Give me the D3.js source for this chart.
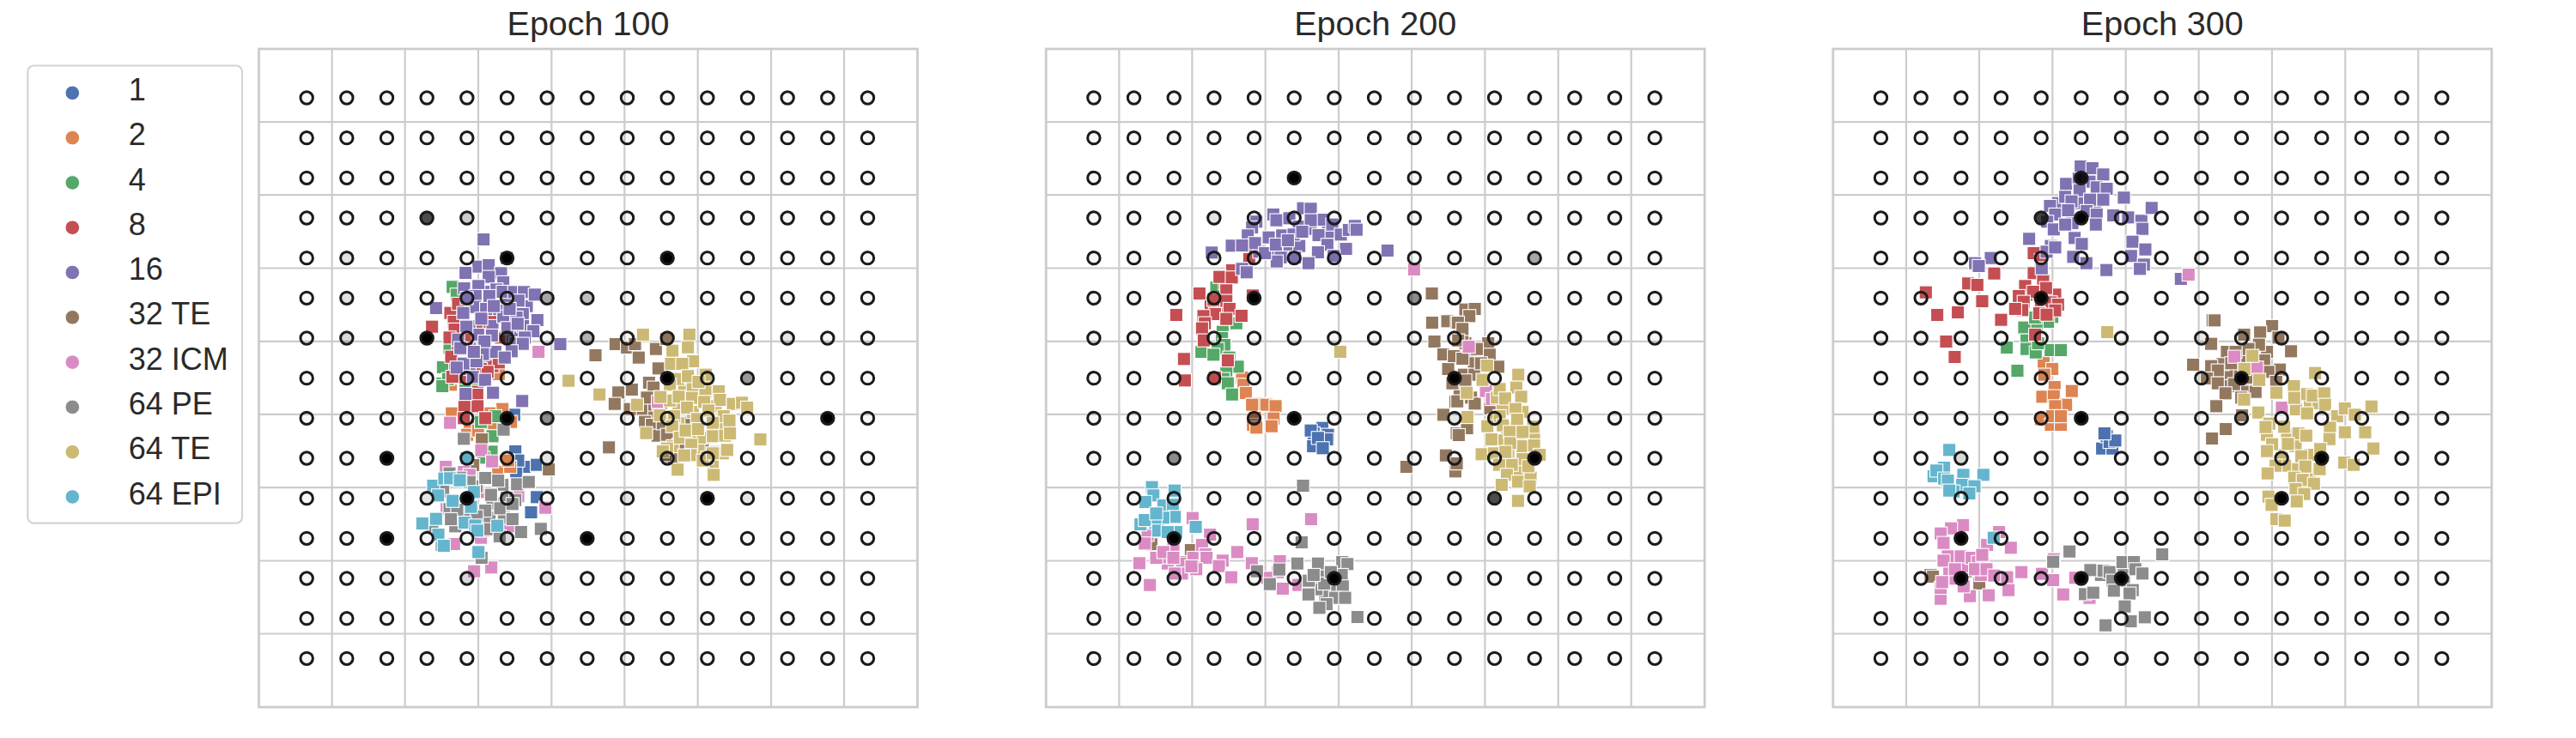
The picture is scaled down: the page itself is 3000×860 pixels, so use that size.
<!DOCTYPE html>
<html>
<head>
<meta charset="utf-8">
<script src="https://cdn.jsdelivr.net/npm/d3@7"></script>
<style>
    html, body { margin: 0; background: #fff; }
    text { font-family: "Liberation Sans", Arial, sans-serif; fill: #2a2a2a; }
</style>
</head>
<body>
<div id="chart"></div>
<script>
// Stages in legend order
const stages = ["1", "2", "4", "8", "16", "32 TE", "32 ICM", "64 PE", "64 TE", "64 EPI"];
const stageColors = ["#4C72B0", "#DD8452", "#55A868", "#C44E52", "#8172B3", "#937860", "#DA8BC3", "#8C8C8C", "#CCB974", "#64B5CD"];

// Map coordinates run 0-2301 across each panel, y downwards
const mapDomain = [0, 2301];
const gridTicks = [254, 509, 765, 1021, 1276, 1532, 1788, 2043];
const latticeX = [167, 307, 447, 587, 727, 867, 1007, 1147, 1287, 1427, 1567, 1707, 1847, 1987, 2127];
const latticeY = [171, 311, 451, 591, 731, 871, 1011, 1151, 1291, 1431, 1571, 1711, 1851, 1991, 2131];

// Epoch 100 cells
const e100_1 = [[896,1407],[892,1279],[928,1461],[971,1454],[899,1479],[971,1567],[951,1620],[906,1439]];
const e100_2 = [[838,1137],[671,1174],[674,1274],[851,1259],[806,1274],[736,1314],[728,1349],[766,1334],[881,1304],[836,1479],[878,1461],[871,1439],[811,1309]];
const e100_4 = [[677,832],[691,859],[666,1045],[643,1113],[641,1170],[661,1154],[726,1174],[801,1089],[756,1179],[741,1019],[641,1179],[721,1179],[826,1284],[776,1304],[816,1354],[813,1408],[785,1429]];
const e100_8 = [[696,1039],[686,1109],[816,1109],[706,1149],[776,1119],[605,971],[669,923],[681,954],[684,981],[672,1076],[696,891],[770,985],[726,1004],[806,967],[821,934],[838,1096],[799,1129],[676,1146],[764,1199],[666,1009],[791,1039],[846,1009],[736,1049],[763,1209],[764,1249],[718,1251],[791,1291],[716,1291]];
const e100_16 = [[836,909],[936,899],[886,919],[816,969],[886,1009],[736,969],[766,999],[826,1059],[896,1029],[726,1049],[736,1119],[806,849],[866,869],[785,666],[866,731],[767,761],[722,783],[803,756],[846,784],[803,797],[854,816],[717,837],[767,829],[830,841],[852,849],[892,850],[926,850],[964,859],[757,864],[805,864],[907,880],[619,906],[756,902],[794,909],[714,923],[777,943],[854,935],[922,927],[900,939],[973,948],[725,971],[868,976],[923,969],[959,987],[814,1002],[696,1016],[788,1023],[929,1009],[922,1031],[1053,1032],[704,1046],[883,1057],[783,1067],[859,1079],[715,1100],[760,1092],[691,1114],[748,1147],[790,1157],[818,1202],[722,1206],[904,961],[876,909],[821,899],[726,871],[751,1059],[920,1231]];
const e100_32te = [[1366,1259],[1396,1269],[1366,1289],[1406,1239],[1376,1199],[779,1365],[749,1455],[1013,1470],[1223,1393],[791,1659],[1176,1071],[1246,1032],[1286,1044],[1314,1032],[1387,1049],[1327,1079],[1396,1117],[1424,1014],[1256,1201],[1243,1241],[1303,1191],[1363,1167],[1379,1184],[1336,1259],[1349,1304],[1373,1314],[1393,1352],[1451,1434],[1296,1259],[1356,1219],[1411,1309],[1426,1349],[1486,1306],[1551,1397],[1421,1419],[1466,1384]];
const e100_32icm = [[668,1307],[653,1461],[777,1403],[815,1442],[1001,1604],[716,1479],[906,1564],[682,1731],[776,1709],[752,1826],[812,1813],[656,1609],[766,1549],[876,1669],[786,1684],[736,1489],[977,1059],[1394,1234]];
const e100_64pe = [[746,1619],[816,1589],[856,1639],[716,1639],[806,1639],[761,1529],[796,1679],[726,1579],[666,1609],[855,1331],[716,1363],[791,1500],[902,1522],[943,1514],[851,1524],[644,1548],[811,1559],[866,1569],[896,1577],[693,1611],[791,1614],[843,1606],[886,1591],[886,1644],[985,1678],[916,1689],[686,1669],[606,1669],[639,1734],[778,1779],[841,1704],[736,1514],[666,1484],[704,1499],[836,1509],[671,1644],[761,1634]];
const e100_64te = [[1486,1194],[1526,1189],[1566,1179],[1466,1249],[1516,1269],[1596,1249],[1466,1309],[1546,1359],[1506,1359],[1606,1329],[1446,1389],[1536,1404],[1596,1409],[1436,1229],[1516,1179],[1342,999],[1504,999],[1499,1043],[1445,1055],[1440,1101],[1517,1092],[1479,1101],[1561,1139],[1465,1154],[1499,1144],[1436,1174],[1190,1208],[1321,1244],[1403,1217],[1467,1216],[1513,1220],[1560,1199],[1607,1197],[1611,1227],[1536,1164],[1656,1241],[1688,1237],[1706,1254],[1401,1281],[1451,1284],[1496,1254],[1556,1234],[1571,1264],[1624,1284],[1644,1299],[1531,1294],[1586,1307],[1353,1343],[1444,1319],[1471,1359],[1491,1334],[1534,1329],[1586,1354],[1629,1352],[1646,1344],[1752,1365],[1511,1384],[1426,1397],[1411,1407],[1509,1420],[1486,1421],[1586,1454],[1566,1429],[1621,1414],[1636,1402],[1463,1471],[1589,1489],[1551,1439],[1586,1414],[1082,1160]];
const e100_64epi = [[726,1431],[609,1527],[648,1502],[668,1501],[702,1508],[626,1561],[751,1549],[677,1580],[741,1601],[619,1643],[571,1659],[719,1656],[756,1666],[833,1667],[763,1684],[627,1698],[646,1737],[767,1759]];

// Epoch 200 cells
const e200_1 = [[965,1325],[935,1344],[985,1349],[925,1334],[933,1389],[982,1365],[950,1360],[967,1396]];
const e200_2 = [[685,1149],[690,1174],[698,1203],[725,1244],[746,1241],[770,1244],[802,1249],[730,1289],[795,1292],[723,1314],[735,1324],[788,1319],[720,1244]];
const e200_4 = [[617,989],[615,1011],[623,1035],[543,1059],[600,1049],[585,1069],[640,1079],[670,1111],[630,1134],[620,1154],[635,1169],[650,1208],[665,959],[595,834]];
const e200_8 = [[605,909],[575,899],[625,819],[710,734],[650,774],[606,797],[649,799],[536,855],[630,844],[722,862],[585,877],[630,881],[641,909],[455,930],[683,933],[590,927],[630,944],[550,934],[555,959],[545,977],[551,1019],[635,1089],[482,1084],[485,1159],[590,1149],[715,689]];
const e200_16 = [[845,699],[805,699],[925,629],[985,639],[745,709],[885,689],[898,557],[925,559],[794,579],[805,599],[850,592],[883,621],[967,597],[925,599],[1000,614],[735,604],[720,624],[705,652],[730,679],[778,659],[825,652],[865,649],[895,639],[952,651],[1030,649],[1058,633],[1079,619],[1085,632],[983,685],[1048,699],[1193,705],[950,711],[917,749],[870,729],[820,729],[806,743],[765,714],[649,688],[685,687],[579,712],[1005,724],[685,769],[701,781],[803,684],[845,669]];
const e200_32te = [[1465,1029],[1485,1079],[1455,1009],[1485,1219],[1445,1199],[1495,1099],[368,1732],[506,1752],[485,1794],[1259,1461],[1397,1421],[1430,1477],[1435,1449],[1348,855],[1349,957],[1402,952],[1435,957],[1357,1023],[1388,1068],[1435,1079],[1405,1119],[1430,1234],[1388,1279],[1435,1344],[1465,911],[1498,909],[1479,934],[1439,957],[1455,979],[1440,1019],[1425,1074],[1455,1083],[1460,1139],[1497,1139],[1420,1169],[1545,1029],[1550,1069],[1580,1111],[1520,1099],[1437,1232],[1498,1240],[1552,1257],[1471,1326],[1442,1350],[1465,1159],[1505,1049]];
const e200_32icm = [[475,1799],[515,1779],[425,1799],[512,1640],[722,1662],[926,1644],[573,1698],[355,1699],[345,1729],[445,1744],[545,1734],[668,1759],[398,1777],[385,1779],[326,1798],[557,1767],[617,1789],[719,1798],[561,1779],[604,1808],[475,1834],[450,1834],[525,1819],[508,1809],[647,1847],[363,1874],[817,1791],[810,1829],[772,1849],[827,1887],[882,1874],[410,1759],[445,1779],[1286,771],[1477,1041],[1537,1196],[1558,1224]];
const e200_64pe = [[995,1869],[975,1909],[1015,1899],[945,1889],[898,1527],[893,1725],[737,1826],[815,1820],[782,1871],[878,1799],[950,1799],[1035,1794],[1053,1801],[1033,1839],[956,1844],[918,1859],[972,1869],[1037,1879],[917,1907],[1010,1919],[980,1941],[955,1954],[1045,1919],[1088,1986],[935,1839],[995,1829]];
const e200_64te = [[1595,1259],[1665,1269],[1610,1324],[1655,1349],[1585,1369],[1665,1389],[1615,1409],[1705,1349],[1645,1469],[1605,1429],[1565,1299],[1575,1219],[1541,1107],[1650,1139],[1525,1157],[1470,1202],[1585,1189],[1643,1184],[1604,1222],[1660,1216],[1640,1259],[1472,1287],[1585,1284],[1646,1296],[1542,1319],[1596,1316],[1702,1321],[1620,1339],[1556,1365],[1622,1378],[1665,1339],[1705,1386],[1522,1417],[1565,1414],[1665,1434],[1627,1454],[1583,1454],[1610,1489],[1649,1513],[1693,1499],[1592,1524],[1690,1529],[1649,1580],[1725,1419],[1685,1459],[1605,1409],[1028,1059]];
const e200_64epi = [[370,1532],[375,1561],[449,1544],[347,1584],[410,1596],[443,1594],[450,1636],[410,1639],[382,1657],[330,1662],[345,1647],[523,1671],[392,1684],[455,1689],[425,1689],[385,1624]];

// Epoch 300 cells
const e300_1 = [[940,1397],[976,1397],[956,1354],[966,1374],[986,1369],[948,1344]];
const e300_2 = [[736,1096],[766,1119],[738,1139],[774,1182],[834,1196],[731,1216],[771,1214],[814,1244],[776,1249],[726,1294],[761,1314],[796,1314],[766,1284],[796,1284]];
const e300_4 = [[766,937],[751,954],[711,962],[668,974],[676,1019],[607,1044],[676,1049],[708,1061],[760,1053],[796,1053],[644,1125],[706,939],[716,1029]];
const e300_8 = [[726,899],[676,859],[776,859],[701,714],[726,739],[563,785],[472,820],[504,825],[324,851],[521,882],[436,921],[364,930],[587,947],[395,1023],[425,1077],[701,784],[671,829],[734,811],[744,836],[649,864],[699,849],[666,884],[761,886],[786,894],[661,913],[720,924],[636,909],[776,914],[706,999],[746,929]];
const e300_16 = [[856,539],[836,609],[786,539],[916,549],[865,411],[906,417],[944,439],[814,472],[858,454],[896,464],[921,484],[861,494],[956,489],[1016,520],[811,517],[833,533],[898,527],[944,527],[758,549],[776,579],[821,564],[886,567],[921,579],[979,582],[1031,589],[1077,601],[1113,556],[748,604],[771,631],[811,614],[918,614],[1081,629],[685,664],[844,661],[869,682],[1046,674],[1091,701],[761,689],[746,709],[776,694],[551,731],[496,749],[509,759],[839,727],[885,749],[1041,724],[1086,754],[955,773],[1072,769],[729,767],[1215,804]];
const e300_32te = [[1446,1079],[1416,1139],[1376,1139],[1446,1169],[1516,1059],[1486,1119],[1381,1179],[1436,1199],[341,1839],[349,1845],[464,1826],[511,1869],[1326,949],[1321,1032],[1326,1114],[1311,1149],[1336,1249],[1373,1329],[1333,949],[1321,1031],[1534,969],[1436,999],[1492,991],[1488,1034],[1556,1009],[1600,1057],[1451,1049],[1376,1059],[1406,1059],[1506,1089],[1361,1102],[1258,1104],[1321,1109],[1344,1124],[1391,1099],[1561,1121],[1521,1129],[1306,1152],[1344,1169],[1401,1172],[1476,1199],[1371,1204],[1548,1164],[1339,1249],[1429,1281],[1372,1329],[1324,1362],[1426,1219],[1456,1149]];
const e300_32icm = [[436,1799],[466,1809],[516,1839],[406,1829],[454,1665],[412,1676],[376,1694],[386,1727],[580,1689],[621,1744],[538,1734],[424,1787],[401,1774],[446,1774],[484,1779],[506,1794],[521,1769],[386,1789],[496,1819],[536,1819],[563,1841],[608,1847],[613,1892],[544,1910],[478,1913],[376,1922],[376,1884],[428,1852],[456,1879],[658,1829],[730,1835],[771,1784],[769,1857],[804,1907],[846,1849],[896,1919],[426,1819],[381,1864],[1242,789],[1402,1076],[1481,1114],[1568,1254]];
const e300_64pe = [[986,1839],[1016,1829],[1016,1859],[936,1839],[826,1757],[769,1793],[899,1822],[945,1824],[966,1829],[1011,1794],[1051,1794],[1056,1819],[1081,1834],[976,1859],[981,1894],[1047,1892],[1036,1904],[880,1906],[909,1901],[1019,1949],[1040,2001],[1089,1987],[952,2015],[1150,1767]];
const e300_64te = [[1586,1349],[1566,1419],[1616,1389],[1666,1419],[1616,1469],[1666,1489],[1666,1239],[1636,1529],[1516,1349],[1696,1239],[1465,1073],[1437,1119],[1489,1157],[1684,1133],[1549,1202],[1610,1179],[1656,1207],[1676,1212],[1716,1204],[1719,1244],[1436,1226],[1486,1271],[1617,1260],[1656,1274],[1761,1284],[1788,1257],[1823,1279],[1881,1250],[1524,1310],[1511,1322],[1576,1321],[1736,1324],[1788,1340],[1859,1340],[1626,1344],[1653,1352],[1734,1364],[1534,1382],[1589,1381],[1516,1406],[1888,1397],[1702,1399],[1636,1424],[1568,1431],[1650,1460],[1579,1457],[1546,1457],[1700,1469],[1786,1446],[1819,1454],[1518,1484],[1611,1499],[1641,1507],[1680,1520],[1616,1539],[1646,1556],[1521,1565],[1620,1582],[1532,1594],[1549,1644],[1578,1649],[1611,1220],[958,990]];
const e300_64epi = [[406,1402],[388,1464],[351,1494],[361,1474],[388,1502],[401,1509],[455,1489],[525,1489],[451,1524],[494,1529],[421,1547],[406,1544],[476,1554],[561,1709]];

// Lattice weights as [column, row, weight]; everything else keeps the base weight
const baseWeight = 0.03;
const e100_weights = [[3,3,.7],[4,3,.2],[5,4,1],[1,4,.12],[9,4,1],[1,5,.12],[6,5,.35],[7,5,.25],[1,6,.15],[3,6,1],[5,6,.6],[7,6,.3],[9,7,1],[11,7,.4],[5,8,1],[6,8,.45],[13,8,1],[2,9,1],[4,10,1],[10,10,1],[2,11,1],[7,11,1],[5,11,.15],[4,12,.15],[9,9,.25],[3,10,.1],[8,10,.1],[11,10,.1],[12,6,.1],[2,12,.08],[6,12,.1],[6,9,.1]];
const e200_weights = [[5,2,1],[3,3,.1],[4,5,1],[8,5,.45],[9,7,1],[5,8,1],[4,8,.4],[11,4,.35],[2,9,.45],[2,11,1],[6,12,1],[11,9,1],[10,10,.7],[9,8,.1],[11,7,.08]];
const e300_weights = [[5,2,.9],[5,3,1],[4,3,.75],[4,5,1],[5,8,1],[2,11,1],[2,12,1],[5,12,1],[6,12,1],[2,9,.15],[9,7,1],[11,9,1],[10,10,1],[8,6,.08]];

// One array per stage, in legend order
const epoch100 = [e100_1, e100_2, e100_4, e100_8, e100_16, e100_32te, e100_32icm, e100_64pe, e100_64te, e100_64epi];
const epoch200 = [e200_1, e200_2, e200_4, e200_8, e200_16, e200_32te, e200_32icm, e200_64pe, e200_64te, e200_64epi];
const epoch300 = [e300_1, e300_2, e300_4, e300_8, e300_16, e300_32te, e300_32icm, e300_64pe, e300_64te, e300_64epi];

const panels = [
    {title: "Epoch 100", left: 301.5, cells: epoch100, weights: e100_weights},
    {title: "Epoch 200", left: 1218.2, cells: epoch200, weights: e200_weights},
    {title: "Epoch 300", left: 2134.8, cells: epoch300, weights: e300_weights}
];

const size = 767;
const top_ = 57;
const square = 15.2;

const svg = d3.select("#chart")
    .append("svg")
    .attr("width", 3000)
    .attr("height", 860)
    .style("display", "block");

const x = d3.scaleLinear().domain(mapDomain).range([0, size]);
const y = d3.scaleLinear().domain(mapDomain).range([0, size]);

panels.forEach(panel => {
    const g = svg.append("g").attr("transform", `translate(${panel.left},${top_})`);

    // Grid lines come from the axes, with no labels
    g.append("g")
        .attr("transform", `translate(0,${size})`)
        .call(d3.axisBottom(x).tickValues(gridTicks).tickSize(-size).tickSizeOuter(0).tickFormat(""))
        .call(sel => sel.select(".domain").remove())
        .selectAll("line").attr("stroke", "#cccccc").attr("stroke-width", 2.2);

    g.append("g")
        .call(d3.axisLeft(y).tickValues(gridTicks).tickSize(-size).tickSizeOuter(0).tickFormat(""))
        .call(sel => sel.select(".domain").remove())
        .selectAll("line").attr("stroke", "#cccccc").attr("stroke-width", 2.2);

    // Cells, one stage after another
    panel.cells.forEach((points, i) => {
        g.append("g").selectAll("rect")
            .data(points)
            .enter().append("rect")
            .attr("x", d => x(d[0]) - square / 2)
            .attr("y", d => y(d[1]) - square / 2)
            .attr("width", square)
            .attr("height", square)
            .attr("fill", stageColors[i])
            .attr("stroke", "#fff")
            .attr("stroke-width", 1.1);
    });

    // Frame sits above the cells but under the lattice
    g.append("rect")
        .attr("width", size)
        .attr("height", size)
        .attr("fill", "none")
        .attr("stroke", "#cccccc")
        .attr("stroke-width", 2.8);

    // Lattice of circles, fill darkness follows the weight
    const weightOf = new Map(panel.weights.map(d => [`${d[0]},${d[1]}`, d[2]]));
    const lattice = d3.cross(d3.range(latticeX.length), d3.range(latticeY.length));
    g.append("g").selectAll("circle")
        .data(lattice)
        .enter().append("circle")
        .attr("cx", d => x(latticeX[d[0]]))
        .attr("cy", d => y(latticeY[d[1]]))
        .attr("r", 7.2)
        .attr("fill", "#000")
        .attr("fill-opacity", d => weightOf.get(`${d[0]},${d[1]}`) ?? baseWeight)
        .attr("stroke", "#1a1a1a")
        .attr("stroke-width", 3);

    g.append("text")
        .attr("x", size / 2)
        .attr("y", 40.7 - top_)
        .attr("text-anchor", "middle")
        .style("font-size", "39.5px")
        .text(panel.title);
});

// Legend
const legend = svg.append("g").attr("class", "legend");

legend.append("rect")
    .attr("x", 32.3)
    .attr("y", 76.5)
    .attr("width", 249.7)
    .attr("height", 533.2)
    .attr("rx", 7)
    .attr("fill", "#fff")
    .attr("stroke", "#d4d4d4")
    .attr("stroke-width", 2.2);

stages.forEach((stage, i) => {
    const item = legend.append("g")
        .attr("transform", `translate(84.3,${108.3 + i * 52.3})`);

    item.append("circle")
        .attr("r", 8.3)
        .attr("fill", stageColors[i])
        .attr("stroke", "#fff")
        .attr("stroke-width", 1);

    item.append("text")
        .attr("x", 65.5)
        .attr("y", 8.6)
        .style("font-size", "36px")
        .text(stage);
});
</script>
</body>
</html>
